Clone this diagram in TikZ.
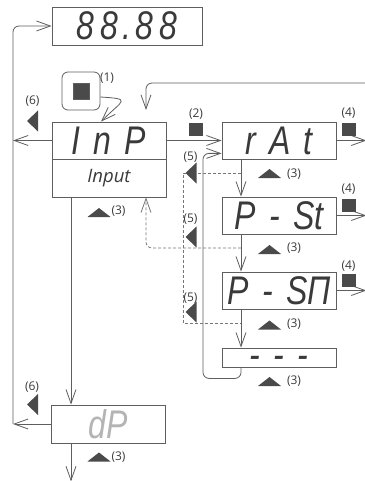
\documentclass[tikz,border=0pt]{standalone}
\usepackage{fontspec}
\setmainfont{Open Sans}
\newfontfamily\segfont{Liberation Sans}[FakeStretch=0.8, WordSpace=1.5]
\usetikzlibrary{positioning,calc,arrows.meta}
\definecolor{segtxt}{HTML}{3A3A3A}
\definecolor{dimtxt}{HTML}{B4B4B4}
\definecolor{wire}{HTML}{5E5E5E}
\definecolor{keyfill}{HTML}{4A4A4A}
\tikzset{
	upkey/.pic={\fill[keyfill] (-11.5,4.5) -- (11.5,4.5) -- (0,-4.5) -- cycle;},
	leftkey/.pic={\fill[keyfill] (5.5,-10.5) -- (5.5,10.5) -- (-5.5,0) -- cycle;},
	setkey/.pic={\fill[keyfill] (-7,-6.5) rectangle (7,6.5);}
}

\begin{document}
\begin{tikzpicture}[x=1pt, y=-1pt, >={Straight Barb[length=14pt,width=10pt]}]
	\useasboundingbox (0,0) rectangle (364,481);
	\tikzstyle{every node}=[inner sep=0pt]
	\tikzstyle{segbox}=[draw=wire, line width=0.8pt, minimum width=114pt, minimum height=37pt, font=\segfont\itshape\fontsize{40}{40}\selectfont, text=segtxt]
	\tikzstyle{tag}=[font=\fontsize{12}{12}\selectfont, text=segtxt]
	\tikzstyle{wire}=[draw=wire, line width=0.8pt]
	\tikzstyle{esc}=[draw=wire!85, line width=0.8pt, dash pattern=on 3pt off 2pt]

	\node[segbox, minimum width=150pt, minimum height=38pt] (show) at (127,26) {8\kern6pt 8\kern4pt.\kern4pt 8\kern6pt 8};
	\node[segbox] (inp) at (109,140.5) {I n P};
	\node[draw=wire, line width=0.8pt, minimum width=114pt, minimum height=38pt, font=\itshape\fontsize{18.5}{18.5}\selectfont, text=segtxt] (inpname) at (109,178) {Input};
	\node[segbox] (rat) at (279,140.5) {r A t};
	\node[segbox] (pst) at (279,215.5) {P - St};
	\node[segbox] (psn) at (279,290.5) {P - SΠ};
	\node[segbox, minimum height=19pt] (dsh) at (279,357.5) {\raisebox{-0.285em}[0pt][0pt]{- - -}};
	\node[segbox, minimum height=38pt, text=dimtxt] (dp) at (108,424) {dP\hspace{14pt}};
	\node[draw=wire, line width=0.8pt, rounded corners=6pt, minimum size=38pt] (btn) at (81,91) {};
	\node[fill=keyfill, draw=wire, minimum size=16pt] (btnkey) at (btn) {};

	\coordinate (rail) at (13,0);
	\coordinate (col) at (71,0);
	\coordinate (lane) at (241,0);
	\coordinate (back) at (203,0);
	\coordinate (drop) at (183,0);
	\coordinate (up) at (146,0);
	\coordinate (ret) at (366,83);
	\coordinate (retend) at (146,110);

	\draw[wire, ->] (inp.west) -- (inp.west -| rail);
	\draw[wire, ->] (dp.west) -- (dp.west -| rail);
	\draw[wire, ->, rounded corners=6pt] (dp.west -| rail) -- (show.west -| rail) -- (show.west);
	\draw[wire, ->] ([yshift=-6pt]btn.east) .. controls +(32,2) and +(22,-22) .. ([xshift=-8pt]inp.north);
	\draw[wire, ->, rounded corners=6pt] (ret) -- (ret -| retend) -- (retend);
	\draw[wire, ->] (inpname.south -| col) -- (dp.north -| col);
	\draw[wire, ->] (dp.south -| col) -- ++(0,38);
	\draw[wire, ->] (inp.east) -- (rat.west);
	\draw[wire, ->] (rat.south -| lane) -- (pst.north -| lane);
	\draw[wire, ->] (pst.south -| lane) -- (psn.north -| lane);
	\draw[wire, ->] (psn.south -| lane) -- (dsh.north -| lane);
	\draw[wire, ->, rounded corners=6pt] (dsh.south -| lane) -- ++(0,11) -| ([yshift=6pt]rat.south west -| back) -- ([yshift=6pt]rat.south west);
	\draw[wire, ->] (rat.east) -- ++(30,0);
	\draw[wire, ->] (pst.east) -- ++(30,0);
	\draw[wire, ->] (psn.east) -- ++(30,0);

	\draw[esc] (lane |- 0,173) -| (drop |- 0,323) -- (lane |- 0,323);
	\draw[esc, ->, rounded corners=6pt] (lane |- 0,248) -- (up |- 0,248) -- (inpname.south -| up);

	\node[tag] (n1) at (107,78.5) {(1)};
	\node[tag] (n2) at (196,114.5) {(2)};
	\pic at (196,130) {setkey};
	\node[tag] (n4a) at (348.5,113.5) {(4)};
	\pic at (348.5,129.5) {setkey};
	\node[tag] (n4b) at (348.5,189.5) {(4)};
	\pic at (348.5,205) {setkey};
	\node[tag] (n4c) at (348.5,266) {(4)};
	\pic at (348.5,280.5) {setkey};

	\pic at (99,212.5) {upkey};
	\node[tag] (n3a) at (118.5,211) {(3)};
	\pic at (269.5,173.5) {upkey};
	\node[tag] (n3b) at (294,174) {(3)};
	\pic at (269.5,249.5) {upkey};
	\node[tag] (n3c) at (294,248) {(3)};
	\pic at (269.5,325) {upkey};
	\node[tag] (n3d) at (294,324.5) {(3)};
	\pic at (269.5,381.5) {upkey};
	\node[tag] (n3e) at (294,381.5) {(3)};
	\pic at (99,457) {upkey};
	\node[tag] (n3f) at (118.5,457) {(3)};

	\pic at (191,173) {leftkey};
	\node[tag] (n5a) at (190.5,157.5) {(5)};
	\pic at (191,237) {leftkey};
	\node[tag] (n5b) at (190.5,219) {(5)};
	\pic at (191,312) {leftkey};
	\node[tag] (n5c) at (190.5,298) {(5)};

	\pic at (32.5,121) {leftkey};
	\node[tag] (n6a) at (32.5,101.5) {(6)};
	\pic at (32.5,404.5) {leftkey};
	\node[tag] (n6b) at (32,387.5) {(6)};
\end{tikzpicture}
\end{document}
